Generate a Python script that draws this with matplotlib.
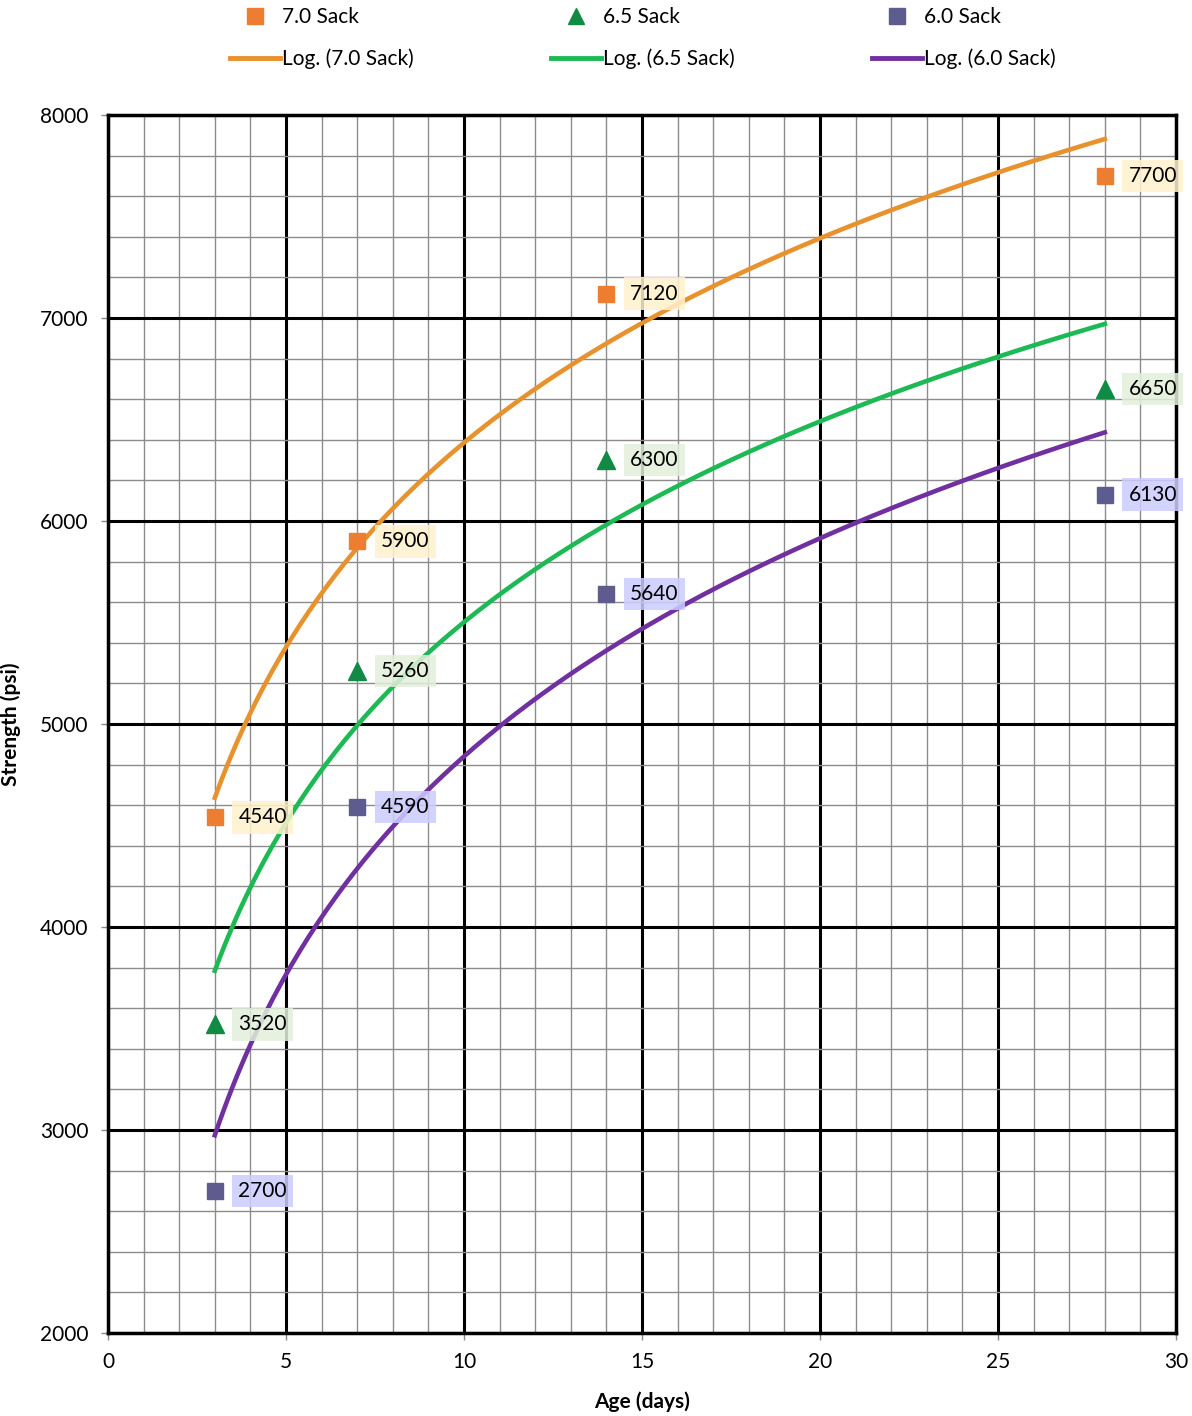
import matplotlib.pyplot as plt
import numpy as np
from matplotlib.lines import Line2D
from matplotlib.ticker import MultipleLocator

plt.rcParams['font.family'] = ['Lato', 'DejaVu Sans']

# compressive strength vs. age for three cement contents
age = [3, 7, 14, 28]
sack_70 = [4540, 5900, 7120, 7700]
sack_65 = [3520, 5260, 6300, 6650]
sack_60 = [2700, 4590, 5640, 6130]

series = [
    ('7.0 Sack', sack_70, 's', '#ED7D31', '#E8922E', '#FFF2CC'),
    ('6.5 Sack', sack_65, '^', '#118A45', '#1DB954', '#E2EFDA'),
    ('6.0 Sack', sack_60, 's', '#5E5B8F', '#7030A0', '#CCCCFF'),
]

fig = plt.figure(figsize=(11.92, 14.16), dpi=100)
ax = fig.add_axes([0.0906, 0.0586, 0.896, 0.8602])

ax.set_xlim(0, 30)
ax.set_ylim(2000, 8000)
ax.xaxis.set_major_locator(MultipleLocator(5))
ax.xaxis.set_minor_locator(MultipleLocator(1))
ax.yaxis.set_major_locator(MultipleLocator(1000))
ax.yaxis.set_minor_locator(MultipleLocator(200))
ax.grid(which='minor', color='#8c8c8c', linewidth=1.0)
ax.grid(which='major', color='black', linewidth=2.2)
ax.set_axisbelow(True)
for s in ax.spines.values():
    s.set_linewidth(2.5)
ax.tick_params(which='major', length=5, width=1, color='#888888', labelsize=15, pad=9)
ax.tick_params(which='minor', length=0)

handles = []
xs = np.linspace(3, 28, 200)
for name, vals, mk, mcol, lcol, bg in series:
    # logarithmic trendline y = a*ln(x) + b
    a, b = np.polyfit(np.log(age), vals, 1)
    ax.plot(xs, a * np.log(xs) + b, color=lcol, linewidth=3.3, zorder=3)
    ax.plot(age, vals, linestyle='none', marker=mk, color=mcol,
            markersize=12 if mk == 's' else 13, zorder=4)
    for x, v in zip(age, vals):
        ax.annotate(str(v), (x, v), xytext=(17, 0), textcoords='offset points',
                    va='center', ha='left', fontsize=15, zorder=5,
                    bbox=dict(boxstyle='square,pad=0.3', fc=bg, ec='none', alpha=0.85))
    handles.append(Line2D([], [], linestyle='none', marker=mk, color=mcol,
                          markersize=11 if mk == 's' else 12, label=name))
    handles.append(Line2D([], [], color=lcol, linewidth=3.5, label='Log. (' + name + ')'))

ax.set_xlabel('Age (days)', fontsize=15, fontweight='bold', labelpad=14)
ax.set_ylabel('Strength (psi)', fontsize=15, fontweight='bold', labelpad=14)

fig.legend(handles=handles, ncol=3, loc='upper left', bbox_to_anchor=(0.177, 1.008),
           frameon=False, fontsize=15, handlelength=2.4, handletextpad=0.1,
           columnspacing=6.6, labelspacing=1.0)

fig.savefig('out.png', dpi=100)
